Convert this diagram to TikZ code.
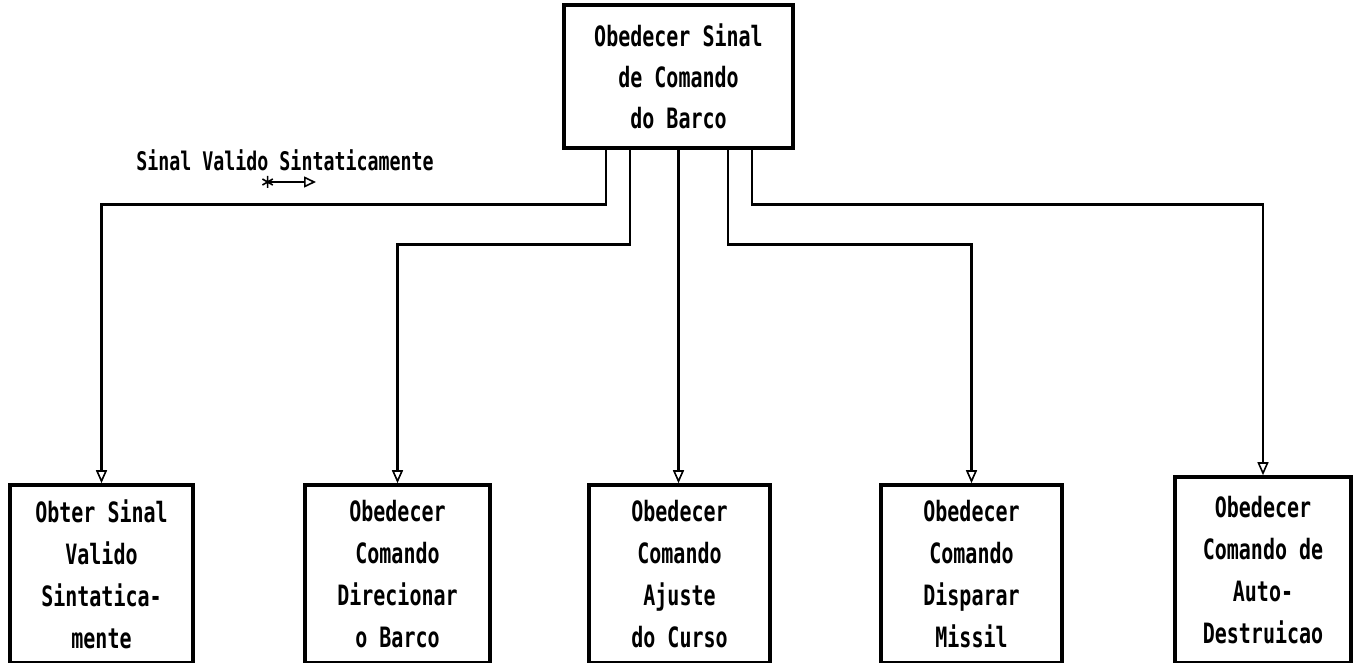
\documentclass[tikz,border=0pt]{standalone}
\usepackage{fontspec}
\usepackage{graphicx}
\setmonofont{DejaVu Sans Mono}
\usetikzlibrary{arrows.meta}
\newcommand{\ys}[1]{\scalebox{1}[1.4]{#1}}
\tikzset{
  box/.style={draw=black, line width=3.6pt, fill=white, align=center,
    inner sep=0pt, font=\ttfamily\bfseries\fontsize{20}{42}\selectfont},
  conn/.style={draw=black, line width=2.6pt,
    -{Triangle[open, length=13pt, width=11pt, line width=1.6pt]}},
  lbl/.style={font=\ttfamily\bfseries\fontsize{18.3}{22}\selectfont, inner sep=0pt},
}
\begin{document}
\begin{tikzpicture}[x=1pt,y=-1pt]
\useasboundingbox (0,0) rectangle (1353,663);
\fill[white] (0,0) rectangle (1353,663);

\node[box, minimum width=229pt, minimum height=143pt,
      font=\ttfamily\bfseries\fontsize{20}{41}\selectfont] (top) at (678.5,76.5)
  {\ys{Obedecer Sinal}\\\ys{de Comando}\\\ys{do Barco}};

\node[box, minimum width=183pt, minimum height=178pt] (b1) at (101.5,574)
  {\ys{Obter Sinal}\\\ys{Valido}\\\ys{Sintatica-}\\\ys{mente}};
\node[box, minimum width=185pt, minimum height=178pt] (b2) at (397.5,574)
  {\ys{Obedecer}\\\ys{Comando}\\\ys{Direcionar}\\\ys{o Barco}};
\node[box, minimum width=181pt, minimum height=178pt] (b3) at (679.5,574)
  {\ys{Obedecer}\\\ys{Comando}\\\ys{Ajuste}\\\ys{do Curso}};
\node[box, minimum width=181pt, minimum height=178pt] (b4) at (971.5,574)
  {\ys{Obedecer}\\\ys{Comando}\\\ys{Disparar}\\\ys{Missil}};
\node[box, minimum width=176pt, minimum height=186pt] (b5) at (1263,570)
  {\ys{Obedecer}\\\ys{Comando de}\\\ys{Auto-}\\\ys{Destruicao}};

\draw[conn] ([xshift=-72.5pt]top.south) -- ++(0,55) -| (b1.north);
\draw[conn] ([xshift=-48.5pt]top.south) -- ++(0,95) -| (b2.north);
\draw[conn] (top.south) -- (top.south |- b3.north);
\draw[conn] ([xshift=49.5pt]top.south) -- ++(0,95) -| (b4.north);
\draw[conn] ([xshift=73.5pt]top.south) -- ++(0,55) -| (b5.north);

\node[lbl] (couplelbl) at (285,160) {\ys{Sinal Valido Sintaticamente}};
\coordinate (cs) at (262,182);
\coordinate (ce) at (316,182);
\draw[line width=1.8pt, {Rays[n=6, length=12pt, line width=1.6pt]}-{Triangle[open, length=12pt, width=11pt, line width=1.6pt]}] (cs) -- (ce);
\end{tikzpicture}
\end{document}
